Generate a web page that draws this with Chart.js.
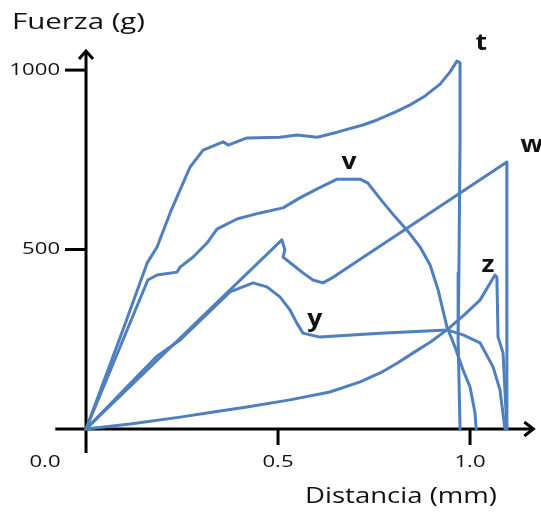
<!DOCTYPE html>
<html>
<head>
<meta charset="utf-8">
<script src="https://cdn.jsdelivr.net/npm/chart.js@4"></script>
<style>
  body { margin: 0; background: #fff; }
  #wrap { width: 541px; height: 512px; }
</style>
</head>
<body>
<div id="wrap"><canvas id="chart" width="541" height="512"></canvas></div>
<script>
// curve t
const tX = [0, 0.096, 0.159, 0.185, 0.219, 0.245, 0.271, 0.305, 0.357, 0.370, 0.419, 0.505, 0.549, 0.602, 0.654, 0.721, 0.758, 0.805, 0.844, 0.883, 0.922, 0.948, 0.966, 0.974, 0.974, 0.971, 0.969, 0.974];
const tY = [0, 276, 462, 507, 602, 666, 730, 777, 800, 791, 811, 813, 819, 813, 827, 847, 861, 883, 903, 928, 961, 995, 1025, 1020, 805, 435, 248, 0];

// curve v
const vX = [0, 0.161, 0.185, 0.237, 0.245, 0.279, 0.315, 0.341, 0.393, 0.453, 0.513, 0.557, 0.602, 0.654, 0.714, 0.734, 0.773, 0.805, 0.836, 0.870, 0.896, 0.917, 0.940, 0.961, 0.982, 1.000, 1.013, 1.016];
const vY = [0, 415, 429, 437, 451, 479, 518, 557, 585, 602, 616, 644, 669, 696, 696, 685, 632, 591, 554, 507, 457, 387, 284, 228, 164, 117, 45, 0];

// curve w
const wX = [0, 0.510, 0.518, 0.513, 0.539, 0.565, 0.591, 0.617, 0.641, 0.661, 1.096, 1.096];
const wY = [0, 527, 499, 479, 457, 435, 415, 407, 421, 435, 744, 0];

// curve y
const yX = [0, 0.185, 0.245, 0.375, 0.435, 0.471, 0.505, 0.531, 0.549, 0.565, 0.609, 0.766, 0.940, 0.982, 1.026, 1.060, 1.078, 1.091];
const yY = [0, 203, 248, 382, 407, 396, 368, 332, 295, 267, 256, 267, 276, 262, 240, 173, 109, 0];

// curve z
const zX = [0, 0.115, 0.245, 0.332, 0.419, 0.531, 0.635, 0.714, 0.766, 0.810, 0.852, 0.898, 0.940, 0.985, 1.026, 1.065, 1.070, 1.073, 1.086, 1.096];
const zY = [0, 14, 33, 47, 61, 81, 103, 131, 156, 183, 212, 243, 276, 318, 359, 429, 423, 256, 212, 0];

const xTicks = [0, 0.5, 1.0];
const xTickLabels = ['0.0', '0.5', '1.0'];
const yTicks = [500, 1000];
const yTickLabels = ['500', '1000'];

const curveNames = ['t', 'v', 'w', 'y', 'z'];
// where each curve's letter sits, in data units
const nameX = [1.029, 0.685, 1.161, 0.596, 1.047];
const nameY = [1075, 744, 791, 304, 457];

const BLUE = '#4f7fbd';
// the source picture is a little wider than tall, text included
const STRETCH = 1.3;

const toPoints = (xs, ys) => xs.map((x, i) => ({ x, y: ys[i] }));

const curves = [[tX, tY], [vX, vY], [wX, wY], [yX, yY], [zX, zY]];

function wideText(ctx, text, x, y, sx) {
  ctx.save();
  ctx.translate(x, y);
  ctx.scale(sx, 1);
  ctx.fillText(text, 0, 0);
  ctx.restore();
}

const axesPlugin = {
  id: 'axes',
  beforeDatasetsDraw(chart) {
    const { ctx, scales: { x, y } } = chart;
    const x0 = x.getPixelForValue(0);
    const y0 = y.getPixelForValue(0);
    ctx.save();
    ctx.strokeStyle = '#000';
    ctx.lineWidth = 3;
    ctx.lineCap = 'butt';

    // y axis
    ctx.beginPath();
    ctx.moveTo(x0, y.bottom);
    ctx.lineTo(x0, y.top + 1);
    ctx.stroke();
    // x axis
    ctx.beginPath();
    ctx.moveTo(x.left, y0);
    ctx.lineTo(x.right - 2, y0);
    ctx.stroke();

    // arrow heads
    ctx.lineJoin = 'miter';
    ctx.beginPath();
    ctx.moveTo(x0 - 7, y.top + 9);
    ctx.lineTo(x0, y.top + 1);
    ctx.lineTo(x0 + 7, y.top + 9);
    ctx.stroke();
    ctx.beginPath();
    ctx.moveTo(x.right - 11, y0 - 7);
    ctx.lineTo(x.right - 2, y0);
    ctx.lineTo(x.right - 11, y0 + 7);
    ctx.stroke();

    // tick marks
    yTicks.forEach(v => {
      const py = y.getPixelForValue(v);
      ctx.beginPath();
      ctx.moveTo(x0 - 21, py);
      ctx.lineTo(x0, py);
      ctx.stroke();
    });
    xTicks.forEach(v => {
      if (v === 0) return;
      const px = x.getPixelForValue(v);
      ctx.beginPath();
      ctx.moveTo(px, y0);
      ctx.lineTo(px, y0 + 16);
      ctx.stroke();
    });
    ctx.restore();
  },
  afterDraw(chart) {
    const { ctx, scales: { x, y } } = chart;
    const x0 = x.getPixelForValue(0);
    const y0 = y.getPixelForValue(0);
    ctx.save();
    ctx.fillStyle = '#111';

    // tick labels
    ctx.font = '17px "Open Sans"';
    ctx.textAlign = 'right';
    ctx.textBaseline = 'middle';
    yTicks.forEach((v, i) => {
      wideText(ctx, yTickLabels[i], x0 - 26, y.getPixelForValue(v), STRETCH);
    });
    ctx.textAlign = 'center';
    xTicks.forEach((v, i) => {
      // the 0.0 label sits left of the origin
      const px = v === 0 ? x0 - 41 : x.getPixelForValue(v);
      wideText(ctx, xTickLabels[i], px, y0 + 33, STRETCH);
    });

    // axis titles
    ctx.font = '22px "Open Sans"';
    ctx.textAlign = 'left';
    wideText(ctx, 'Fuerza (g)', 12, 23, 133 / ctx.measureText('Fuerza (g)').width);
    ctx.textAlign = 'center';
    wideText(ctx, 'Distancia (mm)', 401, 497, 192 / ctx.measureText('Distancia (mm)').width);

    // curve names
    ctx.font = 'bold 23px "Open Sans"';
    curveNames.forEach((n, i) => {
      wideText(ctx, n, x.getPixelForValue(nameX[i]), y.getPixelForValue(nameY[i]), 1.15);
    });
    ctx.restore();
  }
};

new Chart(document.getElementById('chart'), {
  type: 'scatter',
  data: {
    datasets: curves.map(([xs, ys], i) => ({
      label: curveNames[i],
      data: toPoints(xs, ys),
      showLine: true,
      borderColor: BLUE,
      borderWidth: 3,
      pointRadius: 0,
      tension: 0,
      borderJoinStyle: 'round',
      borderCapStyle: 'round',
      clip: false
    }))
  },
  options: {
    responsive: false,
    animation: false,
    layout: { padding: { left: 55.3, right: 5.7, top: 50, bottom: 59 } },
    plugins: {
      legend: { display: false },
      tooltip: { enabled: false }
    },
    scales: {
      x: { type: 'linear', min: -0.08, max: 1.17, display: false },
      y: { type: 'linear', min: -67, max: 1056, display: false }
    }
  },
  plugins: [axesPlugin]
});
</script>
</body>
</html>
